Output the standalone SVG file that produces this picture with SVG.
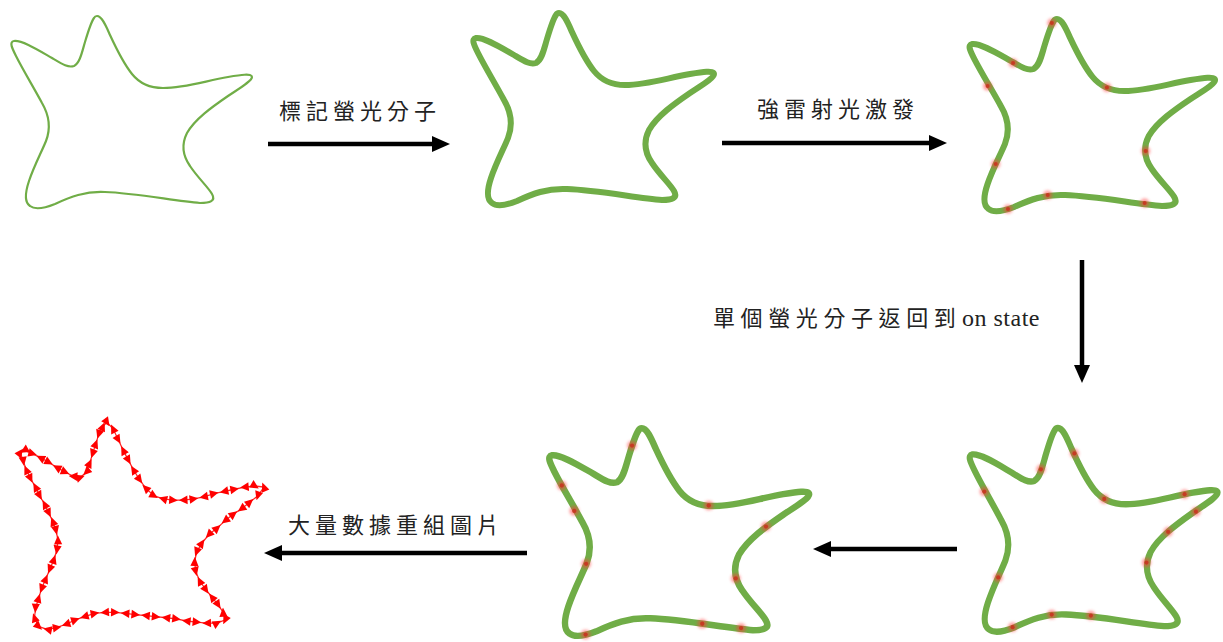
<svg xmlns="http://www.w3.org/2000/svg" xmlns:xlink="http://www.w3.org/1999/xlink" width="1223" height="642" viewBox="0 0 1223 642">
  <style>
    .cell { fill: none; stroke: #70ad47; stroke-linejoin: round; stroke-linecap: round; }
    .thin { stroke-width: 2.2; }
    .thick { stroke-width: 6; }
    .label { font-family: "Liberation Serif", "Noto Sans CJK TC", serif; font-size: 22px; fill: #222; letter-spacing: 5px; }
    .latin { font-size: 24px; letter-spacing: 0.5px; }
    .conn { stroke: #000; stroke-width: 4.5; fill: none; }
    .halo { fill: #ff3b3b; opacity: 0.5; filter: url(#glow); }
    .core { fill: #c8321e; opacity: 0.85; }
    .trace { fill: none; stroke: #ff0000; stroke-width: 1.2; opacity: 0.85; }
    .marks { fill: none; stroke: none; marker-start: url(#tri); marker-mid: url(#tri); marker-end: url(#tri); }
  </style>
  <defs>
    <!-- cell outline, shared by every panel -->
    <path id="star" d="M97,16 C102,16 106,26 110,35 C116,48 124,64 132,74 C140,84 150,88 163,88 C185,88 205,81 228,77 C240,75 252,73 252,77 C252,81 240,88 228,96 C212,107 195,119 187,133 C181,145 183,156 190,166 C198,178 208,187 212,194 C216,201 210,203 200,203 C175,201 135,193 105,192 C85,191 70,197 55,204 C45,208 35,210 30,206 C24,202 25,193 29,181 C34,166 42,151 46,141 C51,128 49,115 42,103 C34,88 23,70 16,56 C12,48 9,42 14,41 C22,40 38,50 52,58 C62,64 68,68 74,66 C80,63 82,52 85,42 C88,32 91,22 94,18 C95,16 96,16 97,16 Z"/>
    <filter id="glow" x="-1" y="-1" width="3" height="3">
      <feGaussianBlur stdDeviation="1.6"/>
    </filter>
    <marker id="head" viewBox="-2 -8 18 16" refX="0" refY="0" markerWidth="18" markerHeight="16" markerUnits="userSpaceOnUse" orient="auto">
      <path d="M-2,-8 L16,0 L-2,8 Z" fill="#000"/>
    </marker>
    <marker id="tri" viewBox="-4.5 -4.5 9 9" refX="0" refY="0" markerWidth="9" markerHeight="9" markerUnits="userSpaceOnUse" orient="auto">
      <path d="M-4,-4 L4.5,0 L-4,4 Z" fill="#ff0000"/>
    </marker>
  </defs>

  <!-- step 1: bare cell -->
  <g id="cell-plain">
    <use xlink:href="#star" href="#star" class="cell thin"/>
  </g>

  <!-- step 2: labelled cell -->
  <g id="cell-labelled" transform="translate(462,-3)">
    <use xlink:href="#star" href="#star" class="cell thick"/>
  </g>

  <!-- step 3: after strong laser excitation -->
  <g id="cell-excited" transform="translate(958,3) scale(1.02,1)">
    <use xlink:href="#star" href="#star" class="cell thick"/>
    <g class="halo">
      <circle cx="92" cy="20" r="4.5"/><circle cx="54" cy="60" r="4.5"/><circle cx="29" cy="83" r="4.5"/>
      <circle cx="146" cy="84.5" r="4.5"/><circle cx="184" cy="148" r="4.5"/><circle cx="37" cy="161" r="4.5"/>
      <circle cx="88" cy="192" r="4.5"/><circle cx="49" cy="206" r="4.5"/><circle cx="183" cy="200" r="4.5"/>
    </g>
    <g class="core">
      <circle cx="92" cy="20" r="2"/><circle cx="54" cy="60" r="2"/><circle cx="29" cy="83" r="2"/>
      <circle cx="146" cy="84.5" r="2"/><circle cx="184" cy="148" r="2"/><circle cx="37" cy="161" r="2"/>
      <circle cx="88" cy="192" r="2"/><circle cx="49" cy="206" r="2"/><circle cx="183" cy="200" r="2"/>
    </g>
  </g>

  <!-- step 4: single molecules back on -->
  <g id="cell-blink-a" transform="translate(958,411) scale(1.03,1.06)">
    <use xlink:href="#star" href="#star" class="cell thick"/>
    <g class="halo">
      <circle cx="113" cy="40" r="4.5"/><circle cx="80.5" cy="55" r="4.5"/><circle cx="25.5" cy="76" r="4.5"/>
      <circle cx="142" cy="83" r="4.5"/><circle cx="220" cy="78.5" r="4.5"/><circle cx="231" cy="95" r="4.5"/>
      <circle cx="204" cy="114" r="4.5"/><circle cx="183" cy="143" r="4.5"/><circle cx="39" cy="157" r="4.5"/>
      <circle cx="91" cy="192" r="4.5"/><circle cx="129" cy="193" r="4.5"/><circle cx="53" cy="204" r="4.5"/>
    </g>
    <g class="core">
      <circle cx="113" cy="40" r="2"/><circle cx="80.5" cy="55" r="2"/><circle cx="25.5" cy="76" r="2"/>
      <circle cx="142" cy="83" r="2"/><circle cx="220" cy="78.5" r="2"/><circle cx="231" cy="95" r="2"/>
      <circle cx="204" cy="114" r="2"/><circle cx="183" cy="143" r="2"/><circle cx="39" cy="157" r="2"/>
      <circle cx="91" cy="192" r="2"/><circle cx="129" cy="193" r="2"/><circle cx="53" cy="204" r="2"/>
    </g>
  </g>

  <!-- step 5: another frame of single molecules -->
  <g id="cell-blink-b" transform="translate(537,411) scale(1.08)">
    <use xlink:href="#star" href="#star" class="cell thick"/>
    <g class="halo">
      <circle cx="88" cy="32" r="4.5"/><circle cx="23" cy="69" r="4.5"/><circle cx="34.5" cy="92.5" r="4.5"/>
      <circle cx="159" cy="87.5" r="4.5"/><circle cx="212" cy="107" r="4.5"/><circle cx="45.5" cy="141.5" r="4.5"/>
      <circle cx="184" cy="155" r="4.5"/><circle cx="153" cy="197" r="4.5"/><circle cx="189" cy="201" r="4.5"/>
      <circle cx="45" cy="207" r="4.5"/>
    </g>
    <g class="core">
      <circle cx="88" cy="32" r="2"/><circle cx="23" cy="69" r="2"/><circle cx="34.5" cy="92.5" r="2"/>
      <circle cx="159" cy="87.5" r="2"/><circle cx="212" cy="107" r="2"/><circle cx="45.5" cy="141.5" r="2"/>
      <circle cx="184" cy="155" r="2"/><circle cx="153" cy="197" r="2"/><circle cx="189" cy="201" r="2"/>
      <circle cx="45" cy="207" r="2"/>
    </g>
  </g>

  <!-- step 6: reconstructed image from localisations -->
  <g id="cell-reconstructed" transform="translate(8,405) scale(1.02,1.08)">
    <polygon class="trace" points="97,16 103,22 108,32 113,42 118,51 123,60 129,69 135,77 143,84 152,87 162,88 172,88 182,87 192,85 202,82 212,80 222,78 232,76 242,75 251,76 245,84 237,90 229,96 221,101 213,107 205,114 197,120 190,128 185,136 183,145 184,154 188,163 194,171 200,178 206,185 211,192 213,199 205,202 195,202 185,201 175,200 165,198 155,197 145,196 135,195 125,194 115,193 105,192 95,192 85,193 75,196 66,199 57,203 48,206 39,208 30,205 26,197 27,188 30,179 33,170 37,161 41,152 45,143 48,134 49,125 47,116 44,108 40,100 36,92 31,84 27,76 22,68 18,60 15,52 12,44 16,42 24,45 32,49 40,53 48,58 56,62 64,66 71,67 77,62 80,54 83,45 86,36 89,27 93,20"/>
    <polyline class="marks" points="97,16 108,32 118,51 129,69 143,84 162,88 182,87 202,82 222,78 242,75 245,84 229,96 213,107 197,120 185,136 184,154 194,171 206,185 213,199 195,202 175,200 155,197 135,195 115,193 95,192 75,196 57,203 39,208 26,197 30,179 37,161 45,143 49,125 44,108 36,92 27,76 18,60 12,44 24,45 40,53 56,62 71,67 80,54 86,36 93,20"/>
    <polyline class="marks" points="89,27 83,45 77,62 64,66 48,58 32,49 16,42 15,52 22,68 31,84 40,100 47,116 48,134 41,152 33,170 27,188 30,205 48,206 66,199 85,193 105,192 125,194 145,196 165,198 185,201 205,202 211,192 200,178 188,163 183,145 190,128 205,114 221,101 237,90 251,76 232,76 212,80 192,85 172,88 152,87 135,77 123,60 113,42 103,22"/>
  </g>

  <!-- process arrows -->
  <g id="connectors">
    <line class="conn" x1="268" y1="144" x2="434" y2="144" marker-end="url(#head)"/>
    <line class="conn" x1="722" y1="143" x2="931" y2="143" marker-end="url(#head)"/>
    <line class="conn" x1="1082" y1="260" x2="1082" y2="367" marker-end="url(#head)"/>
    <line class="conn" x1="957" y1="549" x2="829" y2="549" marker-end="url(#head)"/>
    <line class="conn" x1="527" y1="553" x2="280" y2="553" marker-end="url(#head)"/>
  </g>

  <!-- step labels -->
  <g id="labels">
    <text class="label" x="279" y="119">標記螢光分子</text>
    <text class="label" x="757" y="117">強雷射光激發</text>
    <text class="label" x="713" y="326" style="letter-spacing:5.6px">單個螢光分子返回到<tspan class="latin" x="962">on state</tspan></text>
    <text class="label" x="288" y="533">大量數據重組圖片</text>
  </g>
</svg>
